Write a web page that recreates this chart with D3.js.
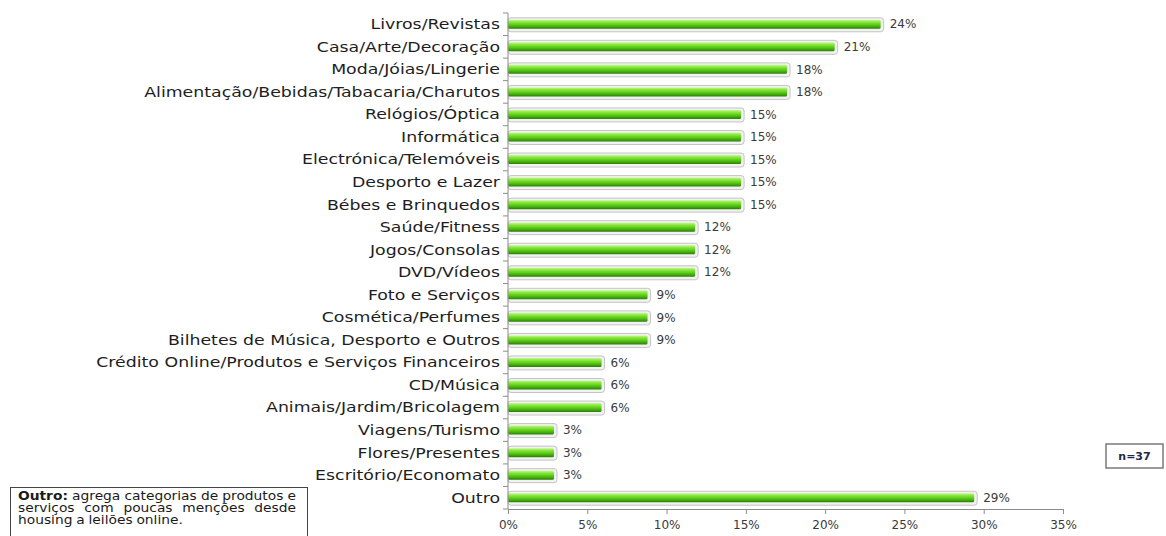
<!DOCTYPE html>
<html>
<head>
<meta charset="utf-8">
<script src="https://cdn.jsdelivr.net/npm/d3@7"></script>
<style>
  html, body { margin: 0; padding: 0; background: #fff; }
  svg { display: block; font-family: "DejaVu Sans", Verdana, sans-serif; }
</style>
</head>
<body>
<svg id="chart" width="1166" height="536"></svg>
<script>
// Categorias de produtos compradas online (percentagem de inquiridos)
const categories = [
  "Livros/Revistas",
  "Casa/Arte/Decoração",
  "Moda/Jóias/Lingerie",
  "Alimentação/Bebidas/Tabacaria/Charutos",
  "Relógios/Óptica",
  "Informática",
  "Electrónica/Telemóveis",
  "Desporto e Lazer",
  "Bébes e Brinquedos",
  "Saúde/Fitness",
  "Jogos/Consolas",
  "DVD/Vídeos",
  "Foto e Serviços",
  "Cosmética/Perfumes",
  "Bilhetes de Música, Desporto e Outros",
  "Crédito Online/Produtos e Serviços Financeiros",
  "CD/Música",
  "Animais/Jardim/Bricolagem",
  "Viagens/Turismo",
  "Flores/Presentes",
  "Escritório/Economato",
  "Outro"
];
const values = [23.5, 20.6, 17.6, 17.6, 14.7, 14.7, 14.7, 14.7, 14.7, 11.8, 11.8, 11.8,
                8.8, 8.8, 8.8, 5.9, 5.9, 5.9, 2.9, 2.9, 2.9, 29.4];
const xTicks = [0, 5, 10, 15, 20, 25, 30, 35];
const sampleLabel = "n=37";
const noteBold = "Outro:";
const noteLines = [
  ["agrega", "categorias", "de", "produtos", "e"],
  ["serviços", "com", "poucas", "menções", "desde"],
  ["housing", "a", "leilões", "online."]
];

const data = categories.map((c, i) => ({ cat: c, v: values[i] }));
const svg = d3.select("#chart");

const x = d3.scaleLinear().domain([0, 35]).range([508, 1063]);
const y = d3.scaleBand().domain(categories).range([13, 509]).paddingInner(0).paddingOuter(0);
const barH = 9;
const fmt = v => d3.format(".0f")(v) + "%";
const labelStretch = 1.24;

// Bar gradient
const defs = svg.append("defs");
const grad = defs.append("linearGradient").attr("id", "barGrad")
  .attr("x1", 0).attr("y1", 0).attr("x2", 0).attr("y2", 1);
[["0%", "#c4f79a"], ["25%", "#8ae83c"], ["55%", "#5ccc18"], ["80%", "#3fa50e"], ["100%", "#2b7a0a"]]
  .forEach(([o, c]) => grad.append("stop").attr("offset", o).attr("stop-color", c));

const rows = svg.append("g").selectAll("g").data(data).join("g");

// Bar shadow / bevel frame
rows.append("rect")
  .attr("x", x(0))
  .attr("y", d => y(d.cat) + y.bandwidth() / 2 - barH / 2 - 2)
  .attr("width", d => x(d.v) - x(0) + 3)
  .attr("height", barH + 5)
  .attr("rx", 3)
  .attr("fill", "#f2f2f2")
  .attr("stroke", "#c4c4c4")
  .attr("stroke-width", 1);

// Bars
rows.append("rect")
  .attr("x", x(0))
  .attr("y", d => y(d.cat) + y.bandwidth() / 2 - barH / 2)
  .attr("width", d => x(d.v) - x(0))
  .attr("height", barH)
  .attr("rx", 1.5)
  .attr("fill", "url(#barGrad)");

// Value labels
rows.append("text")
  .attr("x", d => x(d.v) + 9)
  .attr("y", d => y(d.cat) + y.bandwidth() / 2)
  .attr("dy", "0.35em")
  .attr("font-size", 12)
  .attr("fill", "#3a3a3a")
  .text(d => fmt(d.v));

// Category labels (wide face)
rows.append("text")
  .attr("transform", d => `translate(500,${y(d.cat) + y.bandwidth() / 2}) scale(${labelStretch},1)`)
  .attr("dy", "0.35em")
  .attr("text-anchor", "end")
  .attr("font-size", 14)
  .attr("fill", "#1e1e1e")
  .text(d => d.cat);

// Vertical axis with ticks between categories
const axisColor = "#8c8c8c";
const yAxis = svg.append("g");
yAxis.append("line")
  .attr("x1", x(0)).attr("x2", x(0))
  .attr("y1", y.range()[0]).attr("y2", y.range()[1])
  .attr("stroke", axisColor);
const bounds = categories.map(c => y(c)).concat([y.range()[1]]);
yAxis.selectAll("line.tk").data(bounds).join("line").attr("class", "tk")
  .attr("x1", x(0) - 5).attr("x2", x(0))
  .attr("y1", d => d).attr("y2", d => d)
  .attr("stroke", axisColor);

// Horizontal axis
const xAxis = d3.axisBottom(x).tickValues(xTicks).tickFormat(d => d + "%").tickSize(5).tickSizeOuter(0);
const gx = svg.append("g").attr("transform", `translate(0,${y.range()[1]})`).call(xAxis);
gx.select(".domain").attr("stroke", axisColor);
gx.selectAll(".tick line").attr("stroke", axisColor);
gx.selectAll(".tick text")
  .attr("font-family", "\"DejaVu Sans\", Verdana, sans-serif")
  .attr("font-size", 12)
  .attr("fill", "#3a3a3a")
  .attr("y", 11);

// Sample size box
const nBox = svg.append("g");
nBox.append("rect").attr("x", 1106).attr("y", 444).attr("width", 57).attr("height", 24)
  .attr("fill", "#fff").attr("stroke", "#7a7a7a").attr("stroke-width", 1.5);
nBox.append("text").attr("x", 1134.5).attr("y", 456).attr("dy", "0.35em")
  .attr("text-anchor", "middle").attr("font-size", 11).attr("font-weight", "bold")
  .attr("fill", "#1f2a44").text(sampleLabel);

// Note box with justified text
const note = svg.append("g");
note.append("rect").attr("x", 10.5).attr("y", 487.5).attr("width", 297).attr("height", 60)
  .attr("fill", "#fff").attr("stroke", "#444").attr("stroke-width", 1);
const noteStretch = 1.2;
const left = 18, right = 296, lineY = [500, 512, 524];
const noteText = note.append("g").attr("transform", `translate(${left},0) scale(${noteStretch},1)`);
const innerW = (right - left) / noteStretch;
noteLines.forEach((words, li) => {
  const items = (li === 0 ? [{ t: noteBold, b: true }] : []).concat(words.map(w => ({ t: w, b: false })));
  const texts = items.map(it => noteText.append("text")
    .attr("y", lineY[li]).attr("font-size", 11.5)
    .attr("font-weight", it.b ? "bold" : "normal")
    .attr("fill", "#1a1a1a").text(it.t));
  const widths = texts.map(t => t.node().getComputedTextLength());
  const total = d3.sum(widths);
  const justify = li < noteLines.length - 1;
  const gap = justify ? (innerW - total) / (items.length - 1) : 3.2;
  let cx = 0;
  texts.forEach((t, i) => { t.attr("x", cx); cx += widths[i] + gap; });
});
</script>
</body>
</html>
